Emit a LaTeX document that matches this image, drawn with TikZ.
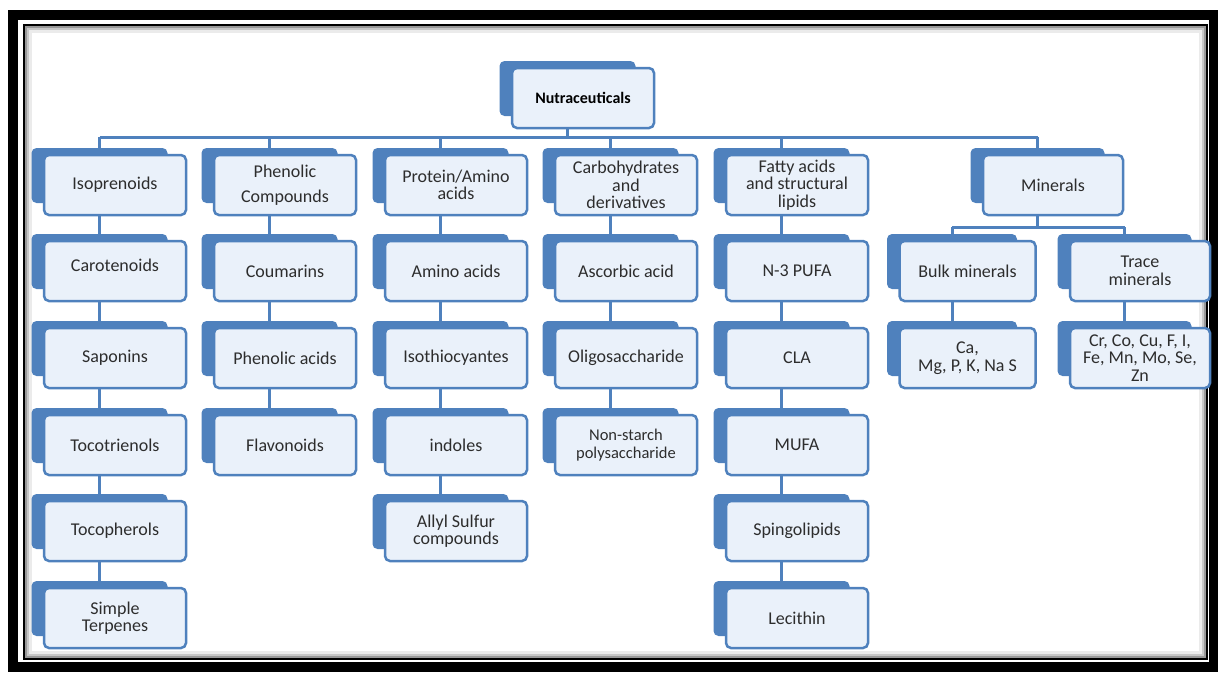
\documentclass[tikz,border=0pt]{standalone}
\usepackage{fontspec}
\setmainfont{Carlito}
\usetikzlibrary{backgrounds}

\definecolor{boxblue}{RGB}{79,129,189}
\definecolor{boxfill}{RGB}{234,241,250}
\definecolor{txt}{RGB}{45,45,45}

\tikzset{
  backcard/.style={fill=boxblue, rounded corners=5pt, minimum height=55, inner sep=0pt},
  frontcard/.style={draw=boxblue, line width=2.5pt, fill=boxfill, rounded corners=5pt,
    minimum height=60, inner sep=1pt, align=center, text=txt,
    font=\fontsize{18}{17.5}\selectfont},
  link/.style={draw=boxblue, line width=3pt},
}
% back card sits up and left of the front card
\newcommand{\card}[5][142]{%
  \node[backcard, minimum width=#1-6] (#2-b) at (#3-15.5,#4-9.5) {};
  \node[frontcard, minimum width=#1] (#2) at (#3,#4) {#5};}
\newcommand{\sm}{\fontsize{16.5}{16}\selectfont}

\begin{document}
\begin{tikzpicture}[x=1pt, y=-1pt]
\useasboundingbox (0,0) rectangle (1218,675);
% frame
\draw[line width=10pt] (13,14.5) rectangle (1214,667);
\draw[line width=2pt] (23.5,24.5) rectangle (1207,659);
\draw[line width=2pt, black!40] (25.5,26.5) rectangle (1205,657);
\draw[line width=2pt, black!22] (27.5,28.5) rectangle (1203,655);
\draw[line width=3pt, black!8] (30,31) rectangle (1200.5,652.5);

\def\rA{185} \def\rB{271} \def\rC{358} \def\rD{445} \def\rE{531} \def\rF{618}

\card{top}{583}{98}{\fontsize{16}{16}\selectfont\bfseries\color{black}Nutraceuticals}

% column 1
\card{iso}{115}{\rA}{Isoprenoids}
\card{caro}{115}{\rB}{\raisebox{12pt}{Carotenoids}}
\card{sapo}{115}{\rC}{Saponins}
\card{tcol}{115}{\rD}{Tocotrienols}
\card{tcph}{115}{\rE}{Tocopherols}
\card{terp}{115}{\rF}{Simple\\Terpenes}
% column 2
\card{phen}{285}{\rA}{Phenolic\\[8pt]Compounds}
\card{coum}{285}{\rB}{Coumarins}
\card{phac}{285}{\rC}{Phenolic acids}
\card{flav}{285}{\rD}{Flavonoids}
% column 3
\card{prot}{456}{\rA}{Protein/Amino\\acids}
\card{amin}{456}{\rB}{Amino acids}
\card{isot}{456}{\rC}{Isothiocyantes}
\card{indo}{456}{\rD}{indoles}
\card{ally}{456}{\rE}{Allyl Sulfur\\compounds}
% column 4
\card{carb}{626}{\rA}{Carbohydrates\\and\\derivatives}
\card{asco}{626}{\rB}{Ascorbic acid}
\card{olig}{626}{\rC}{Oligosaccharide}
\card{nsp}{626}{\rD}{\sm Non-starch\\\sm polysaccharide}
% column 5
\card{fat}{797}{\rA}{Fatty acids\\and structural\\lipids}
\card{pufa}{797}{\rB}{N-3 PUFA}
\card{cla}{797}{\rC}{CLA}
\card{mufa}{797}{\rD}{MUFA}
\card{sphi}{797}{\rE}{Spingolipids}
\card{leci}{797}{\rF}{Lecithin}
% column 6
\card[140]{min}{1053}{\rA}{Minerals}
\card[136]{bulk}{967.5}{\rB}{Bulk minerals}
\card[140]{trace}{1140}{\rB}{Trace\\minerals}
\card[136]{ca}{967.5}{\rC}{Ca,\\Mg, P, K, Na S}
\card[140]{cr}{1140}{\rC}{Cr, Co, Cu, F, I,\\Fe, Mn, Mo, Se,\\Zn}

\begin{scope}[on background layer]
\coordinate (bus) at (0,137);
\coordinate (mbus) at (0,227);
\draw[link] (top-b) -- (top-b |- bus);
\draw[link] (iso-b |- bus) -- (min-b |- bus);
\foreach \n in {iso,phen,prot,carb,fat,min}
  \draw[link] (\n-b |- bus) -- (\n-b);
\draw[link] (min-b) -- (min-b |- mbus);
\draw[link] (bulk-b |- mbus) -- (trace-b |- mbus);
\draw[link] (bulk-b |- mbus) -- (bulk-b);
\draw[link] (trace-b |- mbus) -- (trace-b);
% chains
\draw[link] (iso-b) -- (caro-b) -- (sapo-b) -- (tcol-b) -- (tcph-b) -- (terp-b);
\draw[link] (phen-b) -- (coum-b) -- (phac-b) -- (flav-b);
\draw[link] (prot-b) -- (amin-b) -- (isot-b) -- (indo-b) -- (ally-b);
\draw[link] (carb-b) -- (asco-b) -- (olig-b) -- (nsp-b);
\draw[link] (fat-b) -- (pufa-b) -- (cla-b) -- (mufa-b) -- (sphi-b) -- (leci-b);
\draw[link] (bulk-b) -- (ca-b);
\draw[link] (trace-b) -- (cr-b);
\end{scope}
\end{tikzpicture}
\end{document}
